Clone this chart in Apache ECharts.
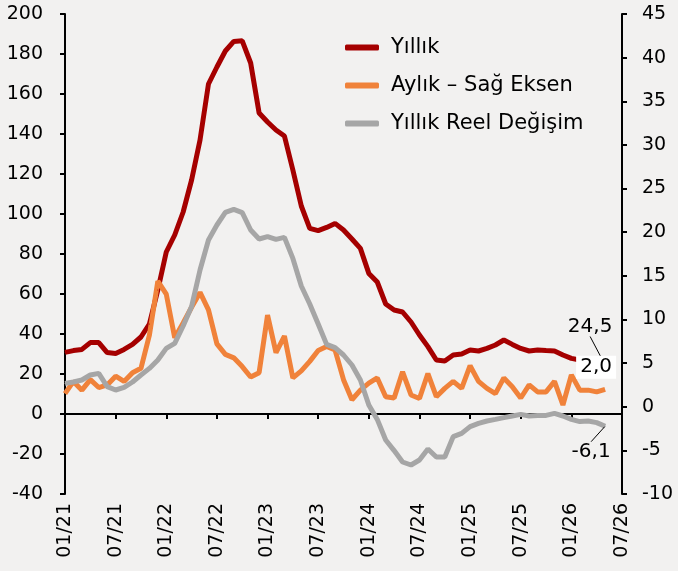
<!DOCTYPE html>
<html>
<head>
<meta charset="utf-8">
<script src="https://cdn.jsdelivr.net/npm/echarts@6/dist/echarts.min.js"></script>
<style>
  html, body { margin: 0; padding: 0; background: #f2f1f0; }
  #chart { width: 678px; height: 571px; }
</style>
</head>
<body>
<div id="chart"></div>
<script>
const categories = [
  '01/21','02/21','03/21','04/21','05/21','06/21','07/21','08/21','09/21','10/21','11/21','12/21',
  '01/22','02/22','03/22','04/22','05/22','06/22','07/22','08/22','09/22','10/22','11/22','12/22',
  '01/23','02/23','03/23','04/23','05/23','06/23','07/23','08/23','09/23','10/23','11/23','12/23',
  '01/24','02/24','03/24','04/24','05/24','06/24','07/24','08/24','09/24','10/24','11/24','12/24',
  '01/25','02/25','03/25','04/25','05/25','06/25','07/25','08/25','09/25','10/25','11/25','12/25',
  '01/26','02/26','03/26','04/26','05/26','06/26','07/26'
];

// Yıllık (sol eksen)
const yillik = [
  30.8, 31.7, 32.3, 35.7, 35.7, 30.7, 30.3, 32.3, 34.8, 38.5,
  45, 62, 81, 89.5, 101, 117, 137, 165, 173.5, 181.5,
  186.3, 186.6, 175.5, 150.5, 146, 142, 139, 122, 104, 92.8,
  91.7, 93.3, 95.3, 92, 87.5, 82.8, 70.3, 66, 55, 52,
  51, 46, 39.5, 33.7, 27, 26.5, 29.5, 30, 32, 31.5,
  32.8, 34.5, 37, 34.8, 32.8, 31.5, 32, 31.7, 31.5, 29.5,
  27.8, 27, 26, 25.5, 24.5
];

// Aylık (sağ eksen)
const aylik = [
  1.5, 2.9, 1.9, 3.1, 2.2, 2.5, 3.5, 2.9, 3.9, 4.4,
  8.2, 14.4, 12.9, 7.9, 9.6, 11.4, 13.1, 11.1, 7.2, 6.0,
  5.6, 4.6, 3.4, 3.9, 10.5, 6.2, 8.1, 3.3, 4.1, 5.2,
  6.45, 6.9, 6.5, 3.1, 0.8, 1.9, 2.7, 3.3, 1.15, 1.0,
  4.0, 1.35, 0.95, 3.8, 1.15, 2.1, 2.9, 2.1, 4.7, 2.9,
  2.1, 1.5, 3.3, 2.3, 1.0, 2.5, 1.7, 1.7, 2.9, 0.2,
  3.65, 1.9, 1.9, 1.7, 2.0
];

// Yıllık Reel Değişim (sol eksen)
const reel = [
  15.3, 16, 17, 19.5, 20.3, 13.7, 12, 13.3, 16, 19.5,
  22.8, 27, 32.8, 35.3, 44, 53.7, 72, 87, 94.5, 100.8,
  102.3, 100.7, 92, 87.5, 88.7, 87.3, 88.3, 77.8, 64, 55,
  45, 34.8, 33.2, 29.5, 24.5, 17, 4.5, -2.7, -13, -18.3,
  -24, -25.5, -23, -17.5, -21.5, -21.5, -11.3, -9.7, -6.3, -4.7,
  -3.5, -2.7, -1.8, -1, -0.2, -1, -0.7, -0.7, 0.3, -1,
  -2.7, -3.8, -3.5, -4.3, -6.1
];

const leftTicks = { min: -40, max: 200, interval: 20 };
const rightTicks = { min: -10, max: 45, interval: 5 };

const font = 'DejaVu Sans';

// only the last point gets a value label
const withEndLabel = values => values.map((v, i) =>
  i === values.length - 1 ? { value: v, label: { show: true } } : v
);
const trNum = p => Number(p.value).toFixed(1).replace('.', ',');

const chart = echarts.init(document.getElementById('chart'));

const axisLine = { show: true, lineStyle: { color: '#000', width: 2 } };
const axisTick = { show: true, inside: false, length: 5, lineStyle: { color: '#000', width: 2 } };

const labelBase = {
  show: false,
  formatter: trNum,
  color: '#000',
  fontFamily: font,
  fontSize: 20
};

// tiny symbols hidden under the 5px line, only there to carry the end labels
const tinySymbol = {
  symbol: 'circle',
  symbolSize: 1,
  showSymbol: true,
  showAllSymbol: true
};

const lastAylik = aylik.length - 1;

let option = {
  backgroundColor: '#f2f1f0',
  animation: false,
  textStyle: { fontFamily: font },
  grid: { left: 65, right: 56, top: 14, bottom: 77 },
  legend: {
    orient: 'vertical',
    left: 340,
    top: 32,
    itemWidth: 34,
    itemHeight: 6,
    itemGap: 17,
    icon: 'roundRect',
    textStyle: { fontFamily: font, fontSize: 21, color: '#000', padding: [0, 0, 0, 7] }
  },
  xAxis: [
    {
      type: 'category',
      data: categories,
      boundaryGap: false,
      axisLine: Object.assign({ onZero: true, onZeroAxisIndex: 0 }, axisLine),
      axisTick: Object.assign({ interval: 5 }, axisTick),
      axisLabel: { show: false, interval: 0 },
      splitLine: { show: false }
    },
    {
      type: 'category',
      data: categories,
      boundaryGap: false,
      position: 'bottom',
      axisLine: { show: false, onZero: false },
      axisTick: { show: false },
      axisLabel: {
        interval: 5,
        rotate: 90,
        margin: 9,
        color: '#000',
        fontFamily: font,
        fontSize: 19
      },
      splitLine: { show: false }
    }
  ],
  yAxis: [
    {
      type: 'value',
      min: leftTicks.min,
      max: leftTicks.max,
      interval: leftTicks.interval,
      axisLine: axisLine,
      axisTick: axisTick,
      axisLabel: { color: '#000', fontFamily: font, fontSize: 19, margin: 22 },
      splitLine: { show: false }
    },
    {
      type: 'value',
      position: 'right',
      min: rightTicks.min,
      max: rightTicks.max,
      interval: rightTicks.interval,
      axisLine: axisLine,
      axisTick: axisTick,
      axisLabel: { color: '#000', fontFamily: font, fontSize: 19, margin: 20 },
      splitLine: { show: false }
    }
  ],
  series: [
    Object.assign({
      name: 'Yıllık',
      type: 'line',
      yAxisIndex: 0,
      color: '#a50000',
      lineStyle: { width: 5, color: '#a50000' },
      data: withEndLabel(yillik),
      label: Object.assign({ position: 'top' }, labelBase),
      labelLayout: { dx: -15, dy: -23 },
      labelLine: { show: true, lineStyle: { color: '#000', width: 1 } }
    }, tinySymbol),
    {
      name: 'Aylık – Sağ Eksen',
      type: 'line',
      yAxisIndex: 1,
      symbol: 'none',
      color: '#f0823a',
      lineStyle: { width: 5, color: '#f0823a' },
      data: aylik,
      // white box with the last value, drawn as a rect marker
      markPoint: {
        symbol: 'rect',
        symbolSize: [40, 23],
        symbolOffset: [-9, -22],
        silent: true,
        itemStyle: { color: '#ffffff', borderWidth: 0 },
        label: {
          show: true,
          position: 'inside',
          formatter: trNum,
          color: '#000',
          fontFamily: font,
          fontSize: 20
        },
        data: [{ coord: [categories[lastAylik], aylik[lastAylik]], value: aylik[lastAylik] }]
      }
    },
    Object.assign({
      name: 'Yıllık Reel Değişim',
      type: 'line',
      yAxisIndex: 0,
      color: '#a6a6a6',
      lineStyle: { width: 5, color: '#a6a6a6' },
      data: withEndLabel(reel),
      label: Object.assign({ position: 'bottom' }, labelBase),
      labelLayout: { dx: -14, dy: 10 },
      labelLine: { show: true, lineStyle: { color: '#000', width: 1 } }
    }, tinySymbol)
  ]
};

chart.setOption(option);
</script>
</body>
</html>
